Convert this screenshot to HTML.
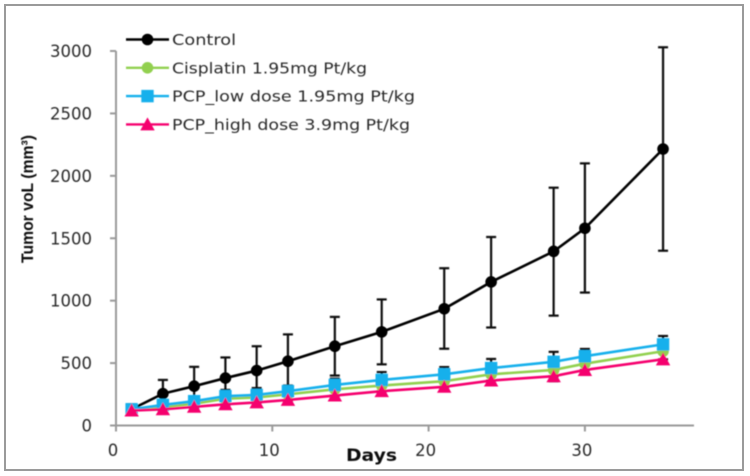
<!DOCTYPE html>
<html lang="en">
<head>
<meta charset="utf-8">
<title>Tumor volume chart</title>
<style>
html,body{margin:0;padding:0;background:#fff;width:750px;height:476px;overflow:hidden}
svg{display:block;position:absolute;left:0;top:0}
text{font-family:"DejaVu Sans","Liberation Sans",sans-serif;fill:#2a2a2a}
</style>
</head>
<body>
<svg id="chart" width="750" height="476" viewBox="0 0 750 476" xmlns="http://www.w3.org/2000/svg">
<defs><filter id="soft" x="-5%" y="-5%" width="110%" height="110%"><feGaussianBlur stdDeviation="0.4"/></filter></defs>
<rect x="5" y="5" width="738" height="465" fill="#fff" stroke="#9a9a9a" stroke-width="2"/>
<g id="plot" filter="url(#soft)"></g>
</svg>
<script>
const days = [1, 3, 5, 7, 9, 11, 14, 17, 21, 24, 28, 30, 35];
const controlValues = [130, 255, 315, 380, 440, 515, 635, 750, 935, 1150, 1395, 1580, 2215];
const controlUpper = [170, 365, 470, 545, 635, 730, 870, 1010, 1260, 1510, 1905, 2100, 3030];
const controlLower = [95, 150, 165, 215, 250, 300, 400, 490, 615, 785, 880, 1065, 1400];
const cisplatinValues = [125, 150, 175, 215, 225, 250, 290, 320, 355, 410, 445, 495, 595];
const lowDoseValues = [130, 165, 195, 235, 245, 275, 325, 365, 410, 460, 510, 555, 650];
const lowDoseUpper = [150, 185, 220, 285, 300, 320, 375, 428, 468, 533, 590, 613, 717];
const highDoseValues = [120, 130, 150, 170, 185, 205, 240, 275, 310, 360, 395, 445, 530];
const highDoseLower = [105, 115, 130, 150, 160, 185, 215, 250, 285, 335, 355, 405, 505];
const xTickLabels = [0, 10, 20, 30];
const yTickLabels = [0, 500, 1000, 1500, 2000, 2500, 3000];
const legendLabels = ["Control", "Cisplatin 1.95mg Pt/kg", "PCP_low dose 1.95mg Pt/kg", "PCP_high dose 3.9mg Pt/kg"];
const legendWidths = [64, 195, 243, 238];

const NS = "http://www.w3.org/2000/svg";
const plot = document.getElementById("plot");
function xScale(v) { return 116 + v * 15.63; }
function yScale(v) { return 425.5 - v * 0.12483; }
function make(tag, attrs, parent) {
  const el = document.createElementNS(NS, tag);
  for (const k in attrs) el.setAttribute(k, attrs[k]);
  (parent || plot).appendChild(el);
  return el;
}
function marker(kind, cx, cy, color, parent) {
  if (kind === "circle") return make("circle", {cx: cx, cy: cy, r: 5.8, fill: color}, parent);
  if (kind === "square") return make("rect", {x: cx - 6.2, y: cy - 6.2, width: 12.4, height: 12.4, fill: color}, parent);
  return make("polygon", {points: (cx - 7.2) + "," + (cy + 6) + " " + (cx + 7.2) + "," + (cy + 6) + " " + cx + "," + (cy - 7), fill: color}, parent);
}

/* axes */
const axisColor = "#9a9a9a";
const yAxis = make("line", {x1: 116, y1: yScale(3000), x2: 116, y2: yScale(0), stroke: axisColor, "stroke-width": 2});


const xAxis = make("line", {x1: 110, y1: yScale(0), x2: 694, y2: yScale(0), stroke: axisColor, "stroke-width": 2});



yTickLabels.forEach(function (t) {
  make("line", {x1: 110, y1: yScale(t), x2: 116, y2: yScale(t), stroke: axisColor, "stroke-width": 2});
  const label = make("text", {x: 92, y: yScale(t) + 6, "text-anchor": "end", "font-size": 16.5});
  label.textContent = t;
  
  
});
xTickLabels.forEach(function (t) {
  make("line", {x1: xScale(t), y1: yScale(0), x2: xScale(t), y2: yScale(0) + 6, stroke: axisColor, "stroke-width": 2});
  const label = make("text", {x: xScale(t) - 3, y: 456, "text-anchor": "middle", "font-size": 16.5});
  label.textContent = t;
  
  
});

/* error bars */
function errorBars(lows, highs, name) {
  const g = make("g", {stroke: "#111", "stroke-width": 2.2, fill: "none"});
  
  
  days.forEach(function (d, i) {
    const x = xScale(d);
    make("line", {x1: x, y1: yScale(lows[i]), x2: x, y2: yScale(highs[i])}, g);
    make("line", {x1: x - 5, y1: yScale(lows[i]), x2: x + 5, y2: yScale(lows[i])}, g);
    make("line", {x1: x - 5, y1: yScale(highs[i]), x2: x + 5, y2: yScale(highs[i])}, g);
  });
}
errorBars(controlLower, controlUpper, "control-error-bars");
errorBars(lowDoseValues, lowDoseUpper, "low-dose-error-bars");
errorBars(highDoseLower, highDoseValues, "high-dose-error-bars");

/* series */
function series(values, color, kind, name) {
  const g = make("g", {});
  
  
  const pts = days.map(function (d, i) { return xScale(d) + "," + yScale(values[i]); }).join(" ");
  make("polyline", {points: pts, fill: "none", stroke: color, "stroke-width": 2.6}, g);
  days.forEach(function (d, i) { marker(kind, xScale(d), yScale(values[i]), color, g); });
}
series(controlValues, "#000000", "circle", "control-series");
series(cisplatinValues, "#92d050", "circle", "cisplatin-series");
series(lowDoseValues, "#15b0ec", "square", "low-dose-series");
series(highDoseValues, "#f5046e", "triangle", "high-dose-series");

/* legend */
const legendColors = ["#000000", "#92d050", "#15b0ec", "#f5046e"];
const legendKinds = ["circle", "circle", "square", "triangle"];
legendLabels.forEach(function (txt, i) {
  const y = 39.5 + i * 28.3;
  const g = make("g", {});
  
  
  make("line", {x1: 126, y1: y, x2: 169, y2: y, stroke: legendColors[i], "stroke-width": 2.4}, g);
  marker(legendKinds[i], 147.5, y, legendColors[i], g);
  const t = make("text", {x: 172, y: y + 5.5, "font-size": 15.5, textLength: legendWidths[i], lengthAdjust: "spacingAndGlyphs"}, g);
  t.textContent = txt;
});

/* titles */
const yTitle = make("text", {transform: "translate(33,199) rotate(-90)", "text-anchor": "middle", "font-size": 17, "font-weight": "bold", textLength: 128, lengthAdjust: "spacingAndGlyphs", style: "font-family:'Liberation Sans',sans-serif;fill:#111"});
yTitle.textContent = "Tumor voL (mm³)";


const xTitle = make("text", {x: 346, y: 461, "font-size": 16.5, "font-weight": "bold", textLength: 51, lengthAdjust: "spacingAndGlyphs", style: "fill:#111"});
xTitle.textContent = "Days";


</script>
</body>
</html>
